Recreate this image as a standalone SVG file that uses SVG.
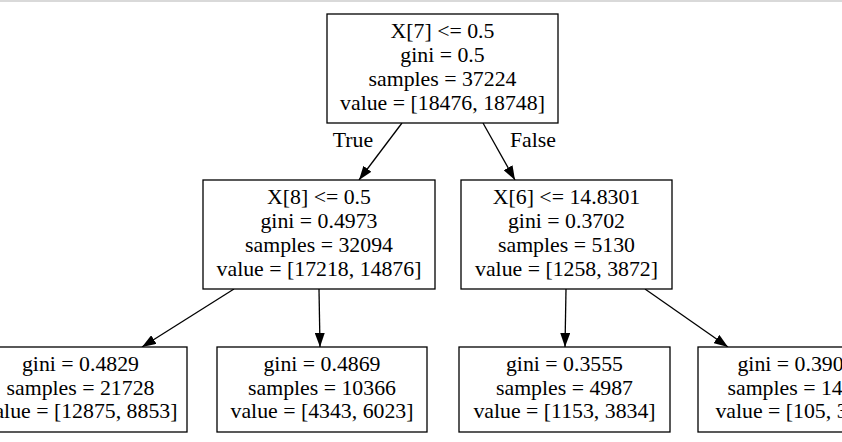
<svg xmlns="http://www.w3.org/2000/svg" width="842" height="442" viewBox="0 0 842 442">
<defs>
<style>
.box{fill:#fff;stroke:#000;stroke-width:1.3}
text{font-family:"Liberation Serif","Times New Roman",serif;font-size:21.8px;text-anchor:middle;fill:#000}
.e{stroke:#000;stroke-width:1.3;fill:none;marker-end:url(#ah)}
</style>
<marker id="ah" viewBox="0 0 14 10" refX="14" refY="5" markerWidth="14" markerHeight="10" markerUnits="userSpaceOnUse" orient="auto"><path d="M0,0 L14,5 L0,10 z" fill="#000"/></marker>
</defs>
<rect width="842" height="442" fill="#fff"/>
<line x1="0" y1="1" x2="842" y2="1" stroke="#ccc" stroke-width="1.5"/>
<g id="connectors">
<line class="e" x1="402" y1="123" x2="359" y2="180"/>
<line class="e" x1="483" y1="123" x2="515" y2="180"/>
<line class="e" x1="234" y1="289" x2="142" y2="347"/>
<line class="e" x1="319" y1="289" x2="320" y2="347"/>
<line class="e" x1="566" y1="289" x2="565" y2="347"/>
<line class="e" x1="645" y1="289" x2="728" y2="347"/>
<text x="353" y="147">True</text>
<text x="533" y="147">False</text>
</g>
<g id="n0"><rect class="box" x="327" y="14" width="231" height="109"/>
<text x="442.5" y="38">X[7] &lt;= 0.5</text><text x="442.5" y="62">gini = 0.5</text><text x="442.5" y="86">samples = 37224</text><text x="442.5" y="110">value = [18476, 18748]</text></g>
<g id="n1"><rect class="box" x="203" y="180" width="232" height="109"/>
<text x="319" y="204">X[8] &lt;= 0.5</text><text x="319" y="228">gini = 0.4973</text><text x="319" y="252">samples = 32094</text><text x="319" y="276">value = [17218, 14876]</text></g>
<g id="n2"><rect class="box" x="461" y="180" width="211" height="109"/>
<text x="566.5" y="204">X[6] &lt;= 14.8301</text><text x="566.5" y="228">gini = 0.3702</text><text x="566.5" y="252">samples = 5130</text><text x="566.5" y="276">value = [1258, 3872]</text></g>
<g id="n3"><rect class="box" x="-26" y="347" width="213" height="85"/>
<text x="80.5" y="371">gini = 0.4829</text><text x="80.5" y="394.5">samples = 21728</text><text x="80.5" y="418">value = [12875, 8853]</text></g>
<g id="n4"><rect class="box" x="217" y="347" width="210" height="85"/>
<text x="322" y="371">gini = 0.4869</text><text x="322" y="394.5">samples = 10366</text><text x="322" y="418">value = [4343, 6023]</text></g>
<g id="n5"><rect class="box" x="459" y="347" width="211" height="85"/>
<text x="564.5" y="371">gini = 0.3555</text><text x="564.5" y="394.5">samples = 4987</text><text x="564.5" y="418">value = [1153, 3834]</text></g>
<g id="n6"><rect class="box" x="698" y="347" width="196" height="85"/>
<text x="796" y="371">gini = 0.3902</text><text x="796" y="394.5">samples = 1423</text><text x="796" y="418">value = [105, 318]</text></g>
</svg>
